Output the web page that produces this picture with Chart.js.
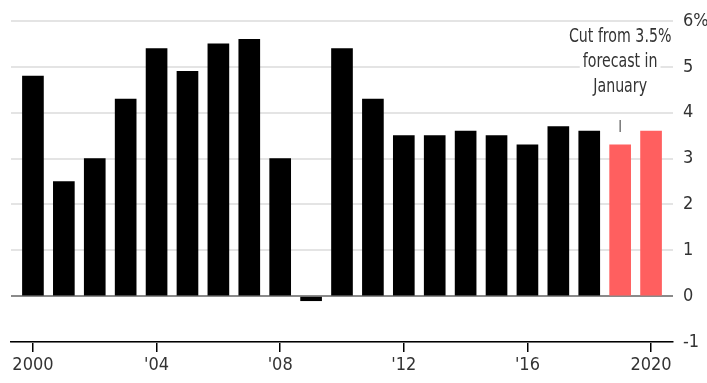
<!DOCTYPE html>
<html>
<head>
<meta charset="utf-8">
<script src="https://cdn.jsdelivr.net/npm/chart.js@4"></script>
<style>
  html, body { margin: 0; padding: 0; background: #fff; }
  #chart { display: block; }
</style>
</head>
<body>
<canvas id="chart" width="707" height="383"></canvas>
<script>
const years = [2000, 2001, 2002, 2003, 2004, 2005, 2006, 2007, 2008, 2009, 2010,
               2011, 2012, 2013, 2014, 2015, 2016, 2017, 2018, 2019, 2020];
const growth = [4.8, 2.5, 3.0, 4.3, 5.4, 4.9, 5.5, 5.6, 3.0, -0.1, 5.4,
                4.3, 3.5, 3.5, 3.6, 3.5, 3.3, 3.7, 3.6, 3.3, 3.6];
const forecastYears = [2019, 2020];
const xTickYears = [2000, 2004, 2008, 2012, 2016, 2020];
const xTickLabels = ['2000', "'04", "'08", "'12", "'16", '2020'];
const yTicks = [-1, 0, 1, 2, 3, 4, 5, 6];
const noteLines = ['Cut from 3.5%', 'forecast in', 'January'];

const FONT = "'Liberation Sans Narrow', 'Arial Narrow', 'DejaVu Sans Condensed', sans-serif";
const TEXT = '#333';
const RED = '#ff5f5f';

// little marker and note above the 2019 bar
const notePlugin = {
    id: 'note',
    afterDatasetsDraw(chart) {
        const {ctx, scales: {x, y}} = chart;
        const cx = x.getPixelForValue(2019);

        ctx.save();
        ctx.strokeStyle = '#555';
        ctx.lineWidth = 1.2;
        ctx.beginPath();
        ctx.moveTo(cx, y.getPixelForValue(3.84));
        ctx.lineTo(cx, y.getPixelForValue(3.58));
        ctx.stroke();

        // condensed look: squeeze the note horizontally
        const sx = 0.83;
        ctx.font = '19px ' + FONT;
        ctx.textAlign = 'center';
        ctx.textBaseline = 'middle';
        const top = y.getPixelForValue(5.65);
        noteLines.forEach((line, i) => {
            const ly = top + i * 25;
            const w = ctx.measureText(line).width * sx;
            ctx.fillStyle = '#fff';
            ctx.fillRect(cx - w / 2 - 3, ly - 10, w + 6, 20);
            ctx.save();
            ctx.translate(cx, ly);
            ctx.scale(sx, 1);
            ctx.fillStyle = TEXT;
            ctx.fillText(line, 0, 0);
            ctx.restore();
        });
        ctx.restore();
    }
};

const ctx = document.getElementById('chart').getContext('2d');
new Chart(ctx, {
    type: 'bar',
    data: {
        datasets: [{
            data: years.map((yr, i) => ({x: yr, y: growth[i]})),
            backgroundColor: years.map(yr => forecastYears.includes(yr) ? RED : '#000'),
            barThickness: 21
        }]
    },
    options: {
        responsive: false,
        devicePixelRatio: 1,
        animation: false,
        layout: { padding: { left: 11, top: 21, right: 0, bottom: 0 } },
        plugins: {
            legend: { display: false },
            tooltip: { enabled: false }
        },
        scales: {
            x: {
                type: 'linear',
                offset: false,
                min: 1999.29,
                max: 2020.71,
                afterBuildTicks: scale => { scale.ticks = xTickYears.map(v => ({value: v})); },
                afterFit: scale => { scale.height = 41; },
                ticks: {
                    autoSkip: false,
                    maxRotation: 0,
                    padding: 3,
                    color: TEXT,
                    font: { family: FONT, size: 18 },
                    callback: v => xTickLabels[xTickYears.indexOf(v)]
                },
                grid: {
                    offset: false,
                    drawOnChartArea: false,
                    drawTicks: true,
                    tickLength: 10,
                    color: '#000',
                    lineWidth: 1.5
                },
                border: { color: '#000', width: 1.5 }
            },
            y: {
                position: 'right',
                min: -1,
                max: 6,
                afterBuildTicks: scale => { scale.ticks = yTicks.map(v => ({value: v})); },
                afterFit: scale => { scale.width = 34; },
                ticks: {
                    padding: 10,
                    color: TEXT,
                    font: { family: FONT, size: 18 },
                    callback: v => v === 6 ? '6%' : String(v)
                },
                grid: {
                    drawTicks: false,
                    lineWidth: 2,
                    color: c => c.tick && c.tick.value === 0 ? '#8a8a8a' : '#e4e4e4'
                },
                border: { display: false }
            }
        }
    },
    plugins: [notePlugin]
});
</script>
</body>
</html>
